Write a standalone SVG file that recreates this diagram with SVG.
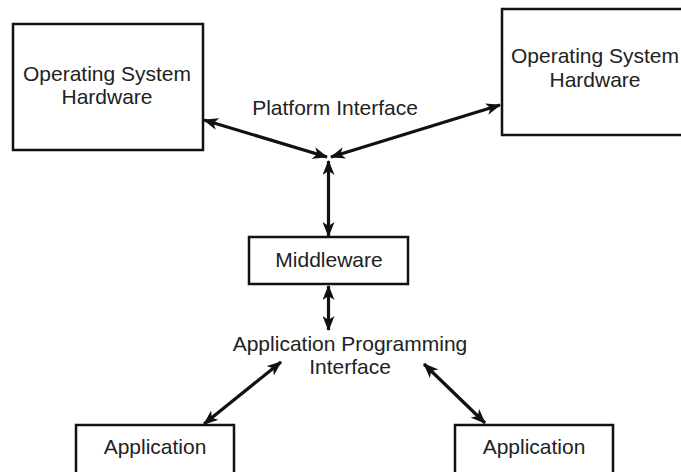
<svg xmlns="http://www.w3.org/2000/svg" width="681" height="472" viewBox="0 0 681 472">
<defs>
<style>
.box{fill:#fff;stroke:#111;stroke-width:2.5}
.t{font-family:"Liberation Sans",Arial,sans-serif;font-size:21px;fill:#222;text-anchor:middle}
.c{stroke:#111;stroke-width:3.2;fill:none;marker-start:url(#ah);marker-end:url(#ah)}
</style>
<marker id="ah" viewBox="0 0 15 12" refX="14" refY="6" markerWidth="15" markerHeight="12" markerUnits="userSpaceOnUse" orient="auto-start-reverse">
<path d="M0,0 L15,6 L0,12 L4,6 Z" fill="#111"/>
</marker>
</defs>
<rect width="681" height="472" fill="#fff"/>
<g id="os-left">
<rect class="box" x="13" y="24" width="190" height="126"/>
<text class="t" x="107" y="81">Operating System</text>
<text class="t" x="107" y="104">Hardware</text>
</g>
<g id="os-right">
<rect class="box" x="502" y="9" width="190" height="126"/>
<text class="t" x="595" y="63">Operating System</text>
<text class="t" x="595" y="87">Hardware</text>
</g>
<g id="platform-interface">
<text class="t" x="335" y="115">Platform Interface</text>
</g>
<g id="middleware">
<rect class="box" x="249" y="237" width="159" height="47"/>
<text class="t" x="329" y="267">Middleware</text>
</g>
<g id="api">
<text class="t" x="350" y="351">Application Programming</text>
<text class="t" x="350" y="374">Interface</text>
</g>
<g id="app-left">
<rect class="box" x="76" y="425" width="158" height="60"/>
<text class="t" x="155" y="454">Application</text>
</g>
<g id="app-right">
<rect class="box" x="455" y="425" width="158" height="60"/>
<text class="t" x="534" y="454">Application</text>
</g>
<g id="connectors">
<line class="c" x1="204" y1="120" x2="327" y2="157"/>
<line class="c" x1="500" y1="105" x2="331" y2="157"/>
<line class="c" x1="328.5" y1="161" x2="328.5" y2="236"/>
<line class="c" x1="328.5" y1="286" x2="328.5" y2="330"/>
<line class="c" x1="281" y1="362" x2="204" y2="424"/>
<line class="c" x1="424" y1="364" x2="485" y2="423"/>
</g>
</svg>
